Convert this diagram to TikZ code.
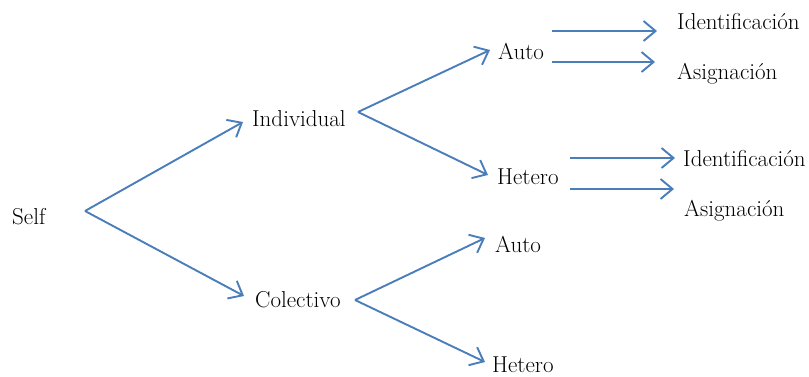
\documentclass[tikz,border=0pt]{standalone}
\usepackage{fontspec}
\usetikzlibrary{arrows.meta}
\definecolor{linkblue}{HTML}{4A7EBB}
\begin{document}
\begin{tikzpicture}[x=1pt,y=-1pt,
  term/.style={anchor=base west,inner sep=0pt,font=\fontsize{23}{26}\selectfont},
  link/.style={draw=linkblue,line width=1.9pt,
    -{Straight Barb[length=12pt,width=20pt,line width=1.9pt]}}]
\useasboundingbox (0,0) rectangle (809,377);

% labels
\node[term] (self) at (12,224) {Self};
\node[term] (ind) at (252,127) {Individual};
\node[term] (col) at (255,307) {Colectivo};
\node[term] (ia) at (498,60) {Auto};
\node[term] (ih) at (497,185) {Hetero};
\node[term] (ca) at (495,252) {Auto};
\node[term] (ch) at (492,372) {Hetero};
\node[term] (iai) at (677,30) {Identificación};
\node[term] (ias) at (677,80) {Asignación};
\node[term] (ihi) at (683,167) {Identificación};
\node[term] (ihs) at (684,216) {Asignación};

% arrow end points
\coordinate (s0) at (85,211);
\coordinate (s1) at (243,122);
\coordinate (s2) at (244,296);
\coordinate (i0) at (358,112);
\coordinate (i1) at (490,50);
\coordinate (i2) at (488,175);
\coordinate (c0) at (355,300);
\coordinate (c1) at (485,238);
\coordinate (c2) at (485,362);
\coordinate (a1s) at (552,31);
\coordinate (a1e) at (657,31);
\coordinate (a2s) at (552,62);
\coordinate (a2e) at (655,62);
\coordinate (h1s) at (570,158);
\coordinate (h1e) at (675,158);
\coordinate (h2s) at (570,189);
\coordinate (h2e) at (674,189);

% connectors
\draw[link] (s0) -- (s1);
\draw[link] (s0) -- (s2);
\draw[link] (i0) -- (i1);
\draw[link] (i0) -- (i2);
\draw[link] (c0) -- (c1);
\draw[link] (c0) -- (c2);
\draw[link] (a1s) -- (a1e);
\draw[link] (a2s) -- (a2e);
\draw[link] (h1s) -- (h1e);
\draw[link] (h2s) -- (h2e);
\end{tikzpicture}
\end{document}
